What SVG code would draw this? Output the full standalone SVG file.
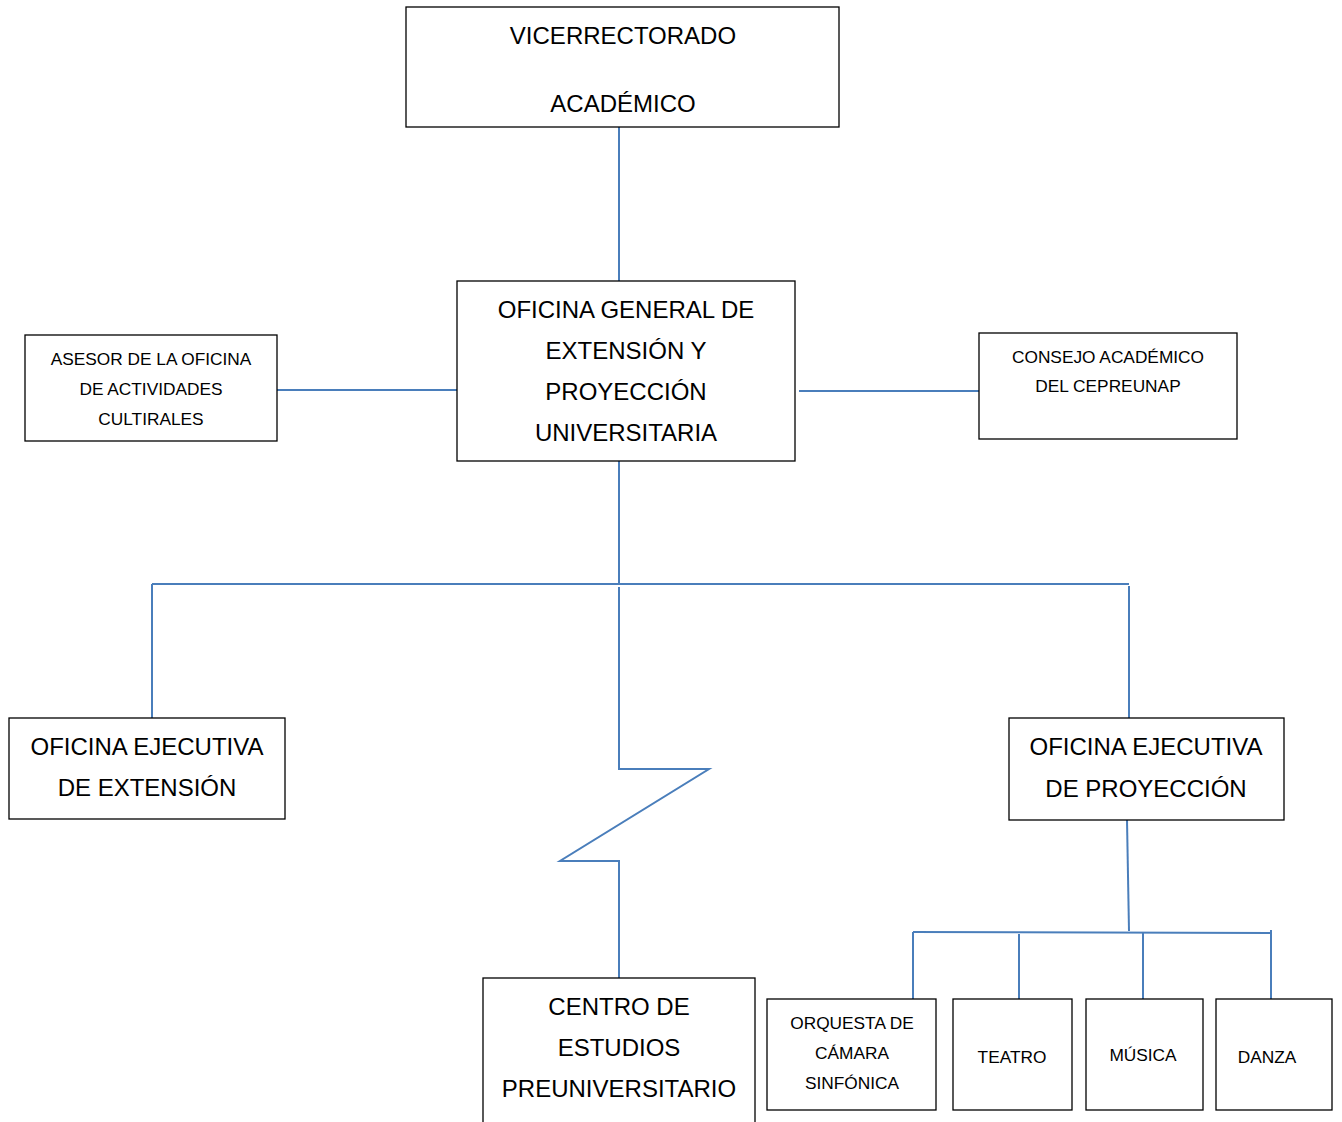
<svg xmlns="http://www.w3.org/2000/svg" width="1342" height="1122" viewBox="0 0 1342 1122">
<style>
.box{fill:#fff;stroke:#000;stroke-width:1.3}
.big{font-family:"Liberation Sans",Arial,sans-serif;font-size:24px;fill:#000;text-anchor:middle}
.sm{font-family:"Liberation Sans",Arial,sans-serif;font-size:17.3px;fill:#000;text-anchor:middle}
.ln{fill:none;stroke:#4a7ebb;stroke-width:2}
</style>
<rect width="1342" height="1122" fill="#fff"/>
<g id="connectors">
<path class="ln" d="M619 127V281"/>
<path class="ln" d="M277 390H457"/>
<path class="ln" d="M799 391H979"/>
<path class="ln" d="M619 461V584"/>
<path class="ln" d="M152 584H1129"/>
<path class="ln" d="M152 584V718"/>
<path class="ln" d="M1129 586V718"/>
<path class="ln" d="M619 587V769H709L560 861H619V978"/>
<path class="ln" d="M1127 820L1129 931"/>
<path class="ln" d="M913 932L1271 933"/>
<path class="ln" d="M913 932V999"/>
<path class="ln" d="M1019 934V999"/>
<path class="ln" d="M1143 932V999"/>
<path class="ln" d="M1271 930V999"/>
</g>
<g id="vicerrectorado">
<rect class="box" x="406" y="7" width="433" height="120"/>
<text class="big" x="623" y="44">VICERRECTORADO</text>
<text class="big" x="623" y="112">ACADÉMICO</text>
</g>
<g id="oficina-general">
<rect class="box" x="457" y="281" width="338" height="180"/>
<text class="big" x="626" y="318">OFICINA GENERAL DE</text>
<text class="big" x="626" y="359">EXTENSIÓN Y</text>
<text class="big" x="626" y="400">PROYECCIÓN</text>
<text class="big" x="626" y="441">UNIVERSITARIA</text>
</g>
<g id="asesor">
<rect class="box" x="25" y="335" width="252" height="106"/>
<text class="sm" x="151" y="365">ASESOR DE LA OFICINA</text>
<text class="sm" x="151" y="395">DE ACTIVIDADES</text>
<text class="sm" x="151" y="425">CULTIRALES</text>
</g>
<g id="consejo">
<rect class="box" x="979" y="333" width="258" height="106"/>
<text class="sm" x="1108" y="363">CONSEJO ACADÉMICO</text>
<text class="sm" x="1108" y="392">DEL CEPREUNAP</text>
</g>
<g id="oficina-extension">
<rect class="box" x="9" y="718" width="276" height="101"/>
<text class="big" x="147" y="755">OFICINA EJECUTIVA</text>
<text class="big" x="147" y="796">DE EXTENSIÓN</text>
</g>
<g id="oficina-proyeccion">
<rect class="box" x="1009" y="718" width="275" height="102"/>
<text class="big" x="1146" y="755">OFICINA EJECUTIVA</text>
<text class="big" x="1146" y="797">DE PROYECCIÓN</text>
</g>
<g id="centro">
<rect class="box" x="483" y="978" width="272" height="160"/>
<text class="big" x="619" y="1015">CENTRO DE</text>
<text class="big" x="619" y="1056">ESTUDIOS</text>
<text class="big" x="619" y="1097">PREUNIVERSITARIO</text>
</g>
<g id="orquesta">
<rect class="box" x="767" y="999" width="169" height="111"/>
<text class="sm" x="852" y="1029">ORQUESTA DE</text>
<text class="sm" x="852" y="1059">CÁMARA</text>
<text class="sm" x="852" y="1089">SINFÓNICA</text>
</g>
<g id="teatro">
<rect class="box" x="953" y="999" width="119" height="111"/>
<text class="sm" x="1012" y="1063">TEATRO</text>
</g>
<g id="musica">
<rect class="box" x="1086" y="999" width="117" height="111"/>
<text class="sm" x="1143" y="1061">MÚSICA</text>
</g>
<g id="danza">
<rect class="box" x="1216" y="999" width="116" height="111"/>
<text class="sm" x="1267" y="1063">DANZA</text>
</g>
</svg>
